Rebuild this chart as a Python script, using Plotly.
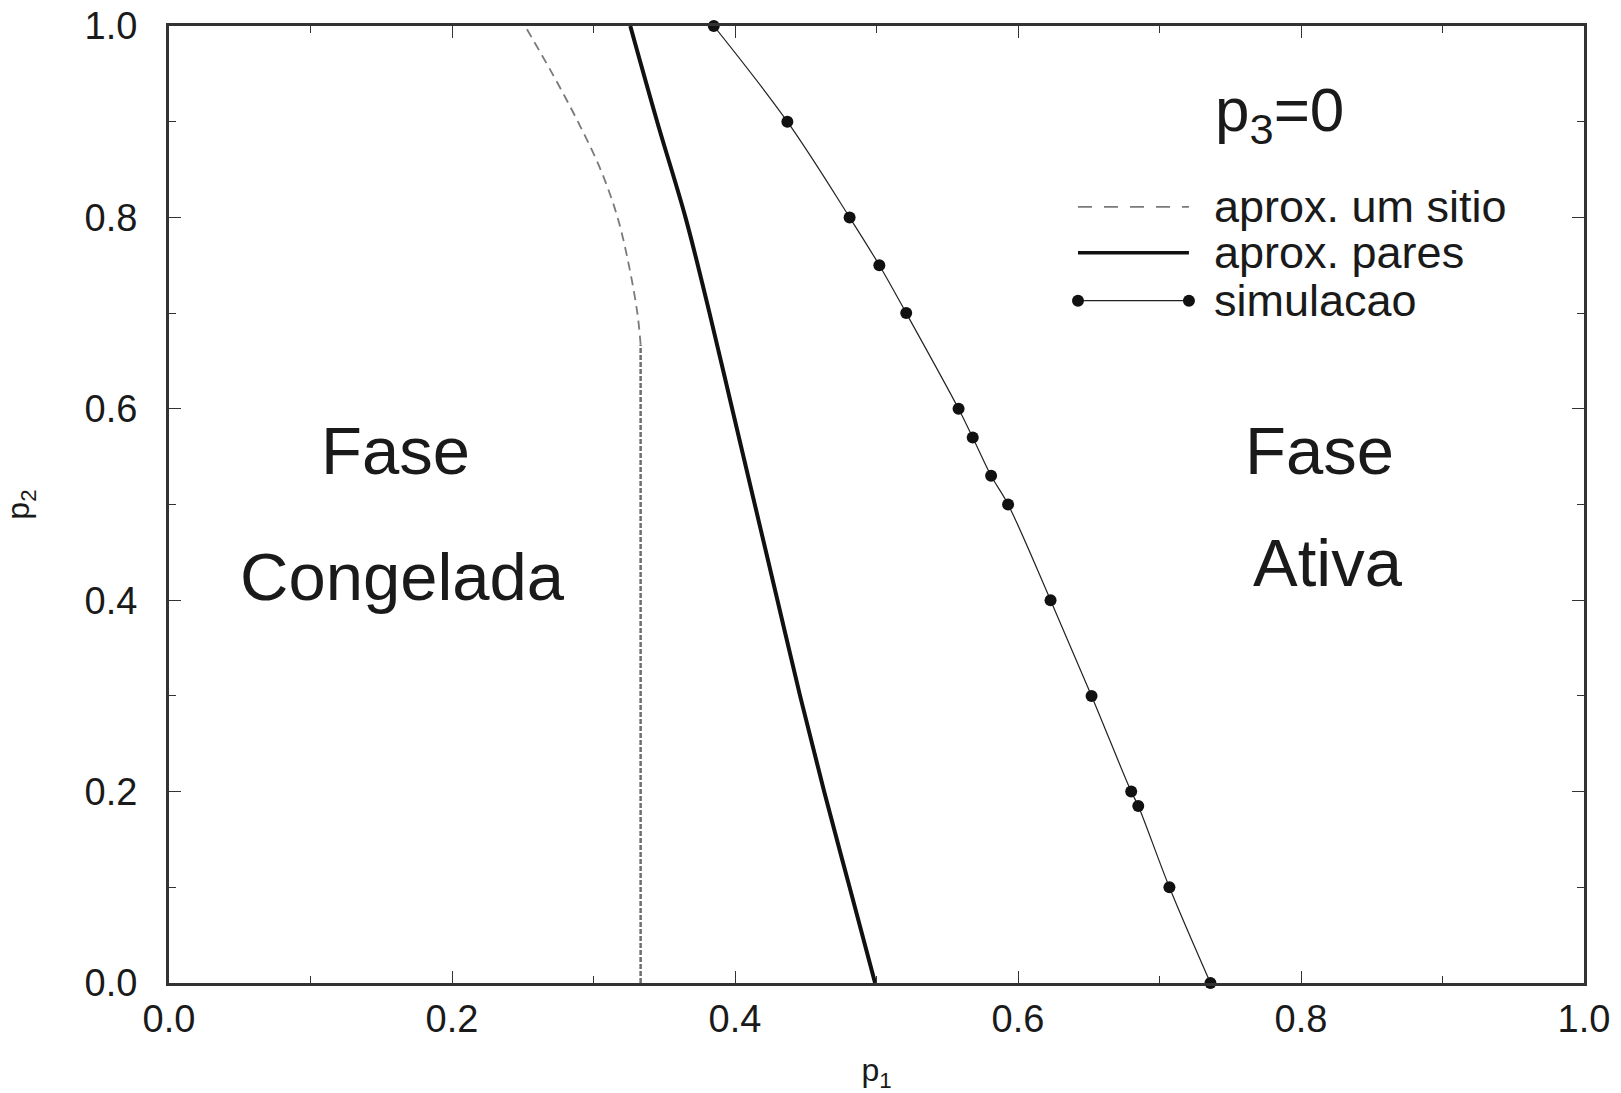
import plotly.graph_objects as go

# --- data ---
sim_p2 = [1.0, 0.9, 0.8, 0.75, 0.7, 0.6, 0.57, 0.53, 0.5, 0.4, 0.3, 0.2, 0.185, 0.1, 0.0]
sim_p1 = [0.385, 0.437, 0.481, 0.502, 0.521, 0.558, 0.568, 0.581, 0.593, 0.623, 0.652, 0.680, 0.685, 0.707, 0.736]

pares_p2 = [1.0, 0.9, 0.8, 0.7, 0.6, 0.5, 0.4, 0.3, 0.2, 0.1, 0.0]
pares_p1 = [0.326, 0.345, 0.365, 0.382, 0.398, 0.414, 0.430, 0.446, 0.463, 0.481, 0.499]

sitio_p2 = [0.0, 0.667, 0.70, 0.75, 0.80, 0.85, 0.90, 0.95, 1.0]
sitio_p1 = [0.3333, 0.3333, 0.331, 0.325, 0.317, 0.305, 0.289, 0.271, 0.2516]

legend_labels = ["aprox. um sitio", "aprox. pares", "simulacao"]
tick_vals = [0.0, 0.2, 0.4, 0.6, 0.8, 1.0]
tick_text = ["0.0", "0.2", "0.4", "0.6", "0.8", "1.0"]

FONT = "Liberation Sans, Arial, Helvetica, sans-serif"
TXT = "#1a1a1a"
AX = "#333333"
GRAY = "#7a7a7a"

fig = go.Figure()

# one-site approximation: vertical part (fine dash) + curved part
fig.add_trace(go.Scatter(x=sitio_p1[:2], y=sitio_p2[:2], mode="lines",
                         line=dict(color="#6e6e6e", width=2.5, dash="5px,2px"),
                         showlegend=False, hoverinfo="skip"))
fig.add_trace(go.Scatter(x=sitio_p1[1:], y=sitio_p2[1:], mode="lines",
                         line=dict(color=GRAY, width=1.8, dash="9px,6px", shape="spline"),
                         name=legend_labels[0], showlegend=False))
# pair approximation
fig.add_trace(go.Scatter(x=pares_p1, y=pares_p2, mode="lines",
                         line=dict(color="#111111", width=4, shape="spline"),
                         name=legend_labels[1], showlegend=False))
# simulation
fig.add_trace(go.Scatter(x=sim_p1, y=sim_p2, mode="lines+markers",
                         line=dict(color="#222222", width=1.2, shape="spline"),
                         marker=dict(color="#111111", size=12),
                         name=legend_labels[2], showlegend=False, cliponaxis=False))

# custom legend (data coords; axes fixed 0..1)
leg_x0, leg_x1, leg_tx = 0.6424, 0.7208, 0.737
leg_y = [0.811, 0.763, 0.713]
fig.add_shape(type="line", x0=leg_x0, x1=leg_x1, y0=leg_y[0], y1=leg_y[0],
              line=dict(color=GRAY, width=1.8, dash="14px,12px"))
fig.add_shape(type="line", x0=leg_x0, x1=leg_x1, y0=leg_y[1], y1=leg_y[1],
              line=dict(color="#111111", width=3.5))
fig.add_trace(go.Scatter(x=[leg_x0, leg_x1], y=[leg_y[2], leg_y[2]], mode="lines+markers",
                         line=dict(color="#222222", width=1.2),
                         marker=dict(color="#111111", size=12),
                         showlegend=False, hoverinfo="skip"))
for lab, yy in zip(legend_labels, leg_y):
    fig.add_annotation(x=leg_tx, y=yy, text=lab, showarrow=False, xanchor="left",
                       yanchor="middle", font=dict(family=FONT, size=45, color=TXT))

# region labels
big = dict(family=FONT, size=67, color=TXT)
fig.add_annotation(x=0.160, y=0.556, text="Fase", showarrow=False, font=big)
fig.add_annotation(x=0.165, y=0.425, text="Congelada", showarrow=False, font=big)
fig.add_annotation(x=0.813, y=0.556, text="Fase", showarrow=False, font=big)
fig.add_annotation(x=0.819, y=0.439, text="Ativa", showarrow=False, font=big)
fig.add_annotation(x=0.785, y=0.908, text="p<sub>3</sub>=0", showarrow=False,
                   font=dict(family=FONT, size=62, color=TXT))

axis_common = dict(range=[0, 1], tickvals=tick_vals, ticktext=tick_text,
                   ticks="inside", ticklen=12, tickwidth=1.2, tickcolor=AX,
                   showline=True, linewidth=3, linecolor=AX, mirror="ticks",
                   showgrid=False, zeroline=False, automargin=False,
                   ticklabeloverflow="allow",
                   minor=dict(dtick=0.1, ticks="inside", ticklen=7, tickwidth=1.2,
                              tickcolor=AX, showgrid=False),
                   tickfont=dict(family=FONT, size=38, color=TXT))

fig.update_xaxes(**axis_common, ticklabelstandoff=0,
                 title=dict(text="p<sub>1</sub>", standoff=30,
                            font=dict(family=FONT, size=32, color=TXT)))
fig.update_yaxes(**axis_common, ticklabelstandoff=21,
                 title=dict(text="p<sub>2</sub>", standoff=56,
                            font=dict(family=FONT, size=32, color=TXT)))

fig.update_layout(width=1621, height=1093, autosize=False,
                  margin=dict(l=169, r=37, t=26, b=110),
                  plot_bgcolor="white", paper_bgcolor="white",
                  showlegend=False)

# remove the page's default 8px body margin so the figure fills the window exactly
fig.write_html("out.html", config={"displayModeBar": False},
               post_script="document.body.style.margin='0';")
